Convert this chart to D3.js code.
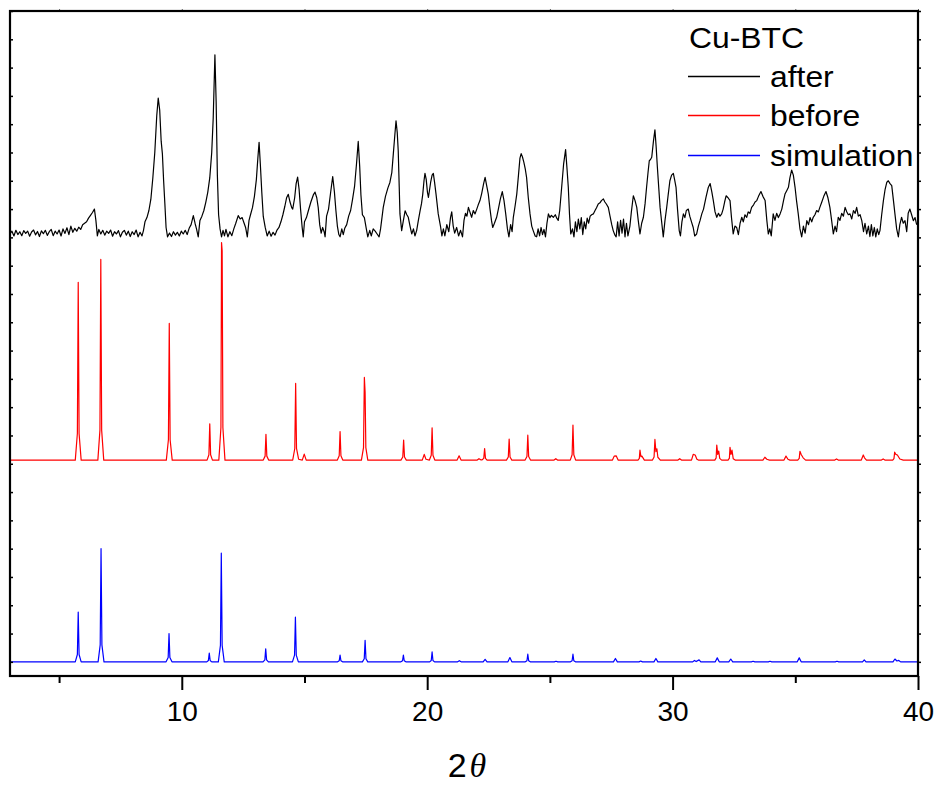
<!DOCTYPE html>
<html>
<head>
<meta charset="utf-8">
<script src="https://cdn.jsdelivr.net/npm/d3@7"></script>
<style>
  html, body { margin: 0; padding: 0; background: #fff; }
  svg { display: block; }
</style>
</head>
<body>
<svg id="chart" width="939" height="787"></svg>
<script>
// Powder XRD patterns of Cu-BTC: measured after / before, and simulated pattern.
// Each pattern is a list of [2θ, intensity] points; intensity is in stacked
// plot units, measured from the pattern's own baseline.

const seriesNames = ["after", "before", "simulation"];
const seriesColors = ["#000000", "#ff0000", "#0000ff"];
const seriesOffsets = [15, 7.13, 0];

const xMajorTicks = [10, 20, 30, 40];
const xMinorTicks = [5, 15, 25, 35];
const yTickValues = [0, 1, 2, 3, 4, 5, 6, 7, 8, 9, 10, 11, 12, 13, 14, 15, 16, 17, 18, 19, 20, 21, 22, 23];

const afterData = [
  [3.00,0.12],[3.08,0.22],[3.16,0.05],[3.24,0.25],[3.32,0.10],[3.40,0.20],[3.48,0.06],[3.56,0.24],
  [3.64,0.14],[3.72,0.22],[3.80,0.04],[3.88,0.19],[3.96,0.26],[4.04,0.09],[4.12,0.21],[4.20,0.03],
  [4.28,0.23],[4.36,0.13],[4.44,0.25],[4.52,0.07],[4.60,0.20],[4.68,0.28],[4.76,0.06],[4.84,0.22],
  [4.92,0.12],[5.00,0.26],[5.08,0.05],[5.16,0.30],[5.24,0.14],[5.32,0.34],[5.40,0.10],[5.48,0.40],
  [5.56,0.18],[5.64,0.32],[5.72,0.22],[5.80,0.36],[5.88,0.28],[5.96,0.45],[6.04,0.50],[6.12,0.55],
  [6.20,0.68],[6.28,0.78],[6.36,0.88],[6.44,1.00],[6.50,0.60],[6.56,0.05],[6.62,0.28],[6.70,0.12],
  [6.78,0.25],[6.86,0.08],[6.94,0.22],[7.02,0.14],[7.10,0.26],[7.18,0.04],[7.26,0.20],[7.34,0.12],
  [7.42,0.24],[7.50,0.02],[7.58,0.18],[7.66,0.25],[7.74,0.08],[7.82,0.22],[7.90,0.03],[7.98,0.20],
  [8.06,0.10],[8.14,0.26],[8.22,0.02],[8.30,0.18],[8.38,0.05],[8.44,0.25],[8.50,0.55],[8.58,0.70],
  [8.66,0.95],[8.74,1.35],[8.82,2.10],[8.90,3.00],[8.98,4.30],[9.04,4.92],[9.10,4.50],[9.16,3.40],
  [9.21,2.95],[9.26,2.00],[9.31,1.20],[9.36,0.35],[9.42,0.02],[9.50,0.15],[9.58,0.03],[9.66,0.20],
  [9.74,0.08],[9.82,0.18],[9.90,0.05],[9.98,0.22],[10.06,0.12],[10.14,0.25],[10.22,0.10],[10.30,0.32],
  [10.38,0.45],[10.47,0.77],[10.54,0.50],[10.60,0.30],[10.67,0.02],[10.74,0.60],[10.82,0.75],[10.90,0.95],
  [10.98,1.25],[11.06,1.60],[11.14,2.10],[11.22,3.00],[11.28,4.20],[11.35,6.45],[11.40,4.80],[11.45,2.20],
  [11.50,0.80],[11.56,0.30],[11.62,0.02],[11.68,0.25],[11.74,0.05],[11.80,0.28],[11.88,0.02],[11.96,0.20],
  [12.04,0.06],[12.12,0.30],[12.20,0.50],[12.30,0.77],[12.38,0.65],[12.46,0.70],[12.54,0.50],[12.60,0.35],
  [12.67,0.02],[12.74,0.60],[12.80,0.80],[12.88,1.05],[12.96,1.45],[13.04,2.05],[13.10,2.80],[13.15,3.36],
  [13.20,2.60],[13.26,1.60],[13.32,0.74],[13.40,0.35],[13.48,0.05],[13.56,0.22],[13.64,0.04],[13.72,0.18],
  [13.80,0.08],[13.88,0.26],[13.96,0.35],[14.04,0.55],[14.12,0.80],[14.20,1.10],[14.27,1.40],[14.34,1.52],
  [14.41,1.25],[14.48,1.05],[14.52,1.00],[14.60,1.40],[14.66,1.90],[14.72,2.13],[14.78,1.70],[14.84,1.00],
  [14.90,0.40],[14.95,0.02],[15.00,0.55],[15.08,0.70],[15.16,0.95],[15.26,1.25],[15.36,1.50],[15.43,1.60],
  [15.50,1.40],[15.56,1.05],[15.62,0.45],[15.68,0.15],[15.74,0.35],[15.80,0.20],[15.84,0.02],[15.90,0.75],
  [15.98,1.00],[16.06,1.55],[16.15,2.15],[16.22,1.60],[16.28,0.95],[16.34,0.40],[16.40,0.10],[16.45,0.02],
  [16.52,0.30],[16.58,0.10],[16.64,0.32],[16.72,0.45],[16.80,0.75],[16.88,0.95],[16.96,1.35],[17.04,1.80],
  [17.12,2.60],[17.19,3.39],[17.25,2.50],[17.30,1.50],[17.36,0.80],[17.44,0.70],[17.52,0.30],[17.58,0.02],
  [17.66,0.25],[17.72,0.05],[17.80,0.30],[17.88,0.22],[17.96,0.12],[18.04,0.02],[18.10,0.30],[18.21,1.06],
  [18.30,1.45],[18.40,1.75],[18.48,1.94],[18.56,2.30],[18.62,2.95],[18.68,3.60],[18.73,4.12],[18.78,3.70],
  [18.82,3.06],[18.86,1.80],[18.89,0.83],[18.96,0.24],[19.03,0.60],[19.10,0.94],[19.17,0.80],[19.23,0.71],
  [19.30,0.40],[19.37,0.12],[19.44,0.30],[19.50,0.05],[19.57,0.24],[19.64,0.60],[19.71,0.94],[19.77,1.20],
  [19.82,1.53],[19.87,2.00],[19.91,2.26],[19.96,2.05],[20.01,1.60],[20.05,1.41],[20.10,1.70],[20.14,1.94],
  [20.20,2.20],[20.25,2.26],[20.30,1.95],[20.36,1.53],[20.45,0.83],[20.55,0.35],[20.60,0.05],[20.66,0.30],
  [20.72,0.05],[20.80,0.45],[20.88,0.20],[20.95,0.70],[21.00,0.90],[21.06,0.40],[21.12,0.15],[21.20,0.35],
  [21.28,0.05],[21.36,0.25],[21.44,0.02],[21.50,0.60],[21.56,0.85],[21.62,0.75],[21.68,1.06],[21.74,0.90],
  [21.81,0.71],[21.88,0.95],[21.95,0.83],[22.02,1.00],[22.08,1.15],[22.15,1.30],[22.22,1.55],[22.30,1.90],
  [22.36,2.12],[22.42,1.85],[22.49,1.53],[22.56,1.00],[22.62,0.60],[22.67,0.35],[22.74,0.50],[22.83,0.71],
  [22.90,1.00],[22.98,1.35],[23.06,1.62],[23.13,1.30],[23.20,0.83],[23.27,0.30],[23.33,0.02],[23.40,0.45],
  [23.46,0.20],[23.51,0.71],[23.58,1.10],[23.65,1.53],[23.72,2.20],[23.78,2.80],[23.83,2.96],[23.88,2.85],
  [23.94,2.65],[24.00,2.40],[24.05,2.12],[24.12,1.40],[24.19,0.83],[24.26,0.40],[24.32,0.24],[24.40,0.05],
  [24.46,0.02],[24.52,0.30],[24.58,0.05],[24.64,0.35],[24.70,0.10],[24.76,0.28],[24.82,0.02],[24.88,0.50],
  [24.94,0.83],[25.00,0.70],[25.06,0.78],[25.14,0.71],[25.22,0.80],[25.28,0.68],[25.34,0.60],[25.40,0.95],
  [25.48,1.77],[25.56,2.60],[25.64,3.10],[25.70,2.40],[25.75,1.77],[25.80,0.80],[25.85,0.12],[25.92,0.30],
  [25.98,0.02],[26.04,0.55],[26.10,0.20],[26.16,0.65],[26.22,0.30],[26.28,0.70],[26.34,0.10],[26.40,0.55],
  [26.46,0.30],[26.52,0.68],[26.58,0.50],[26.64,0.75],[26.70,0.80],[26.77,0.83],[26.84,0.95],[26.90,1.05],
  [26.97,1.18],[27.04,1.22],[27.10,1.30],[27.18,1.36],[27.24,1.25],[27.30,1.18],[27.38,1.06],[27.45,0.75],
  [27.52,0.45],[27.58,0.24],[27.64,0.10],[27.70,0.02],[27.76,0.55],[27.82,0.05],[27.88,0.60],[27.94,0.15],
  [28.00,0.65],[28.06,0.02],[28.12,0.50],[28.18,0.05],[28.26,0.40],[28.32,0.90],[28.40,1.47],[28.47,1.30],
  [28.54,1.06],[28.60,0.60],[28.67,0.12],[28.74,0.50],[28.81,0.71],[28.88,1.20],[28.94,1.77],[29.00,2.30],
  [29.05,2.71],[29.10,2.75],[29.15,2.83],[29.22,3.40],[29.28,3.80],[29.33,3.20],[29.38,2.48],[29.44,1.70],
  [29.49,1.06],[29.56,0.50],[29.62,0.02],[29.69,0.60],[29.76,1.06],[29.82,1.50],[29.89,2.00],[29.96,2.20],
  [30.03,2.26],[30.08,2.05],[30.14,1.77],[30.20,1.00],[30.27,0.24],[30.32,0.05],[30.38,0.55],[30.44,0.83],
  [30.50,0.70],[30.56,0.95],[30.64,1.00],[30.70,0.75],[30.77,0.55],[30.84,0.35],[30.90,0.05],[30.98,0.12],
  [31.05,0.40],[31.12,0.60],[31.19,0.83],[31.26,1.00],[31.36,1.41],[31.45,1.75],[31.53,1.90],[31.60,1.60],
  [31.66,1.30],[31.73,0.90],[31.80,0.71],[31.87,0.85],[31.93,0.75],[32.00,0.83],[32.06,1.00],[32.12,1.25],
  [32.18,1.47],[32.26,1.40],[32.34,1.30],[32.40,0.70],[32.47,0.12],[32.54,0.40],[32.61,0.35],[32.68,0.10],
  [32.75,0.50],[32.82,0.71],[32.88,0.55],[32.95,0.80],[33.02,0.71],[33.08,0.90],[33.15,0.85],[33.22,1.06],
  [33.30,1.15],[33.36,1.25],[33.43,1.30],[33.50,1.45],[33.60,1.62],[33.68,1.45],[33.77,1.30],[33.84,0.60],
  [33.90,0.12],[33.96,0.30],[34.02,0.05],[34.10,0.83],[34.17,0.60],[34.24,0.85],[34.31,0.70],[34.38,0.83],
  [34.45,1.00],[34.52,1.30],[34.58,1.53],[34.65,1.65],[34.72,1.77],[34.78,2.10],[34.85,2.38],[34.92,2.20],
  [34.99,1.77],[35.05,1.30],[35.12,0.83],[35.19,0.30],[35.26,0.02],[35.33,0.40],[35.40,0.15],[35.47,0.59],
  [35.54,0.45],[35.60,0.70],[35.67,0.55],[35.73,0.71],[35.80,0.80],[35.87,0.95],[35.94,0.90],[36.00,1.06],
  [36.08,1.25],[36.16,1.45],[36.25,1.62],[36.33,1.40],[36.41,1.06],[36.48,0.60],[36.55,0.12],[36.62,0.40],
  [36.68,0.20],[36.75,0.71],[36.82,0.60],[36.89,0.85],[36.96,0.75],[37.03,1.06],[37.10,0.90],[37.16,0.80],
  [37.23,0.83],[37.30,0.65],[37.37,0.95],[37.44,0.85],[37.50,1.06],[37.57,0.75],[37.64,0.80],[37.71,0.59],
  [37.78,0.20],[37.84,0.50],[37.91,0.12],[37.98,0.40],[38.04,0.03],[38.10,0.45],[38.16,0.05],[38.22,0.35],
  [38.28,0.02],[38.34,0.30],[38.40,0.10],[38.45,0.24],[38.52,0.80],[38.59,1.30],[38.66,1.70],[38.73,1.95],
  [38.79,2.00],[38.86,1.90],[38.93,1.83],[39.00,1.30],[39.06,0.83],[39.13,0.30],[39.20,0.02],[39.26,0.45],
  [39.33,0.71],[39.40,0.50],[39.47,0.59],[39.54,0.20],[39.60,0.85],[39.67,1.00],[39.74,0.80],[39.81,0.59],
  [39.88,0.70],[39.94,0.47],[40.00,0.45]
];

const beforeData = [
  [3.00,0],
  [5.66,0],[5.745,0.94],[5.78,6.28],[5.815,0.94],[5.90,0],
  [6.58,0],[6.665,1.06],[6.70,7.09],[6.735,1.06],[6.82,0],
  [9.37,0],[9.455,0.72],[9.49,4.83],[9.525,0.72],[9.61,0],
  [11.03,0],[11.105,0.19],[11.14,1.28],[11.175,0.19],[11.25,0],
  [11.51,0],[11.595,1.15],[11.62,7.69],[11.645,7.4],[11.675,1.15],[11.76,0],
  [13.32,0],[13.395,0.14],[13.43,0.91],[13.465,0.14],[13.54,0],
  [14.52,0],[14.605,0.41],[14.64,2.71],[14.675,0.41],[14.76,0.03],
  [14.91,0],[14.99,0.21],[15.07,0],
  [16.34,0],[16.415,0.15],[16.45,1.01],[16.485,0.15],[16.56,0],
  [17.32,0],[17.405,0.44],[17.44,2.92],[17.47,2.4],[17.50,0.44],[17.58,0],
  [18.93,0],[19.005,0.11],[19.04,0.71],[19.075,0.11],[19.15,0],
  [19.80,0],[19.88,0.20],[19.95,0.03],
  [20.09,0],[20.165,0.17],[20.20,1.14],[20.235,0.17],[20.31,0],
  [21.22,0],[21.30,0.15],[21.38,0],
  [22.04,0],[22.11,0.05],[22.18,0.01],
  [22.24,0.01],[22.305,0.06],[22.34,0.41],[22.375,0.06],[22.44,0],
  [23.23,0],[23.305,0.11],[23.34,0.74],[23.375,0.11],[23.45,0],
  [23.99,0],[24.065,0.13],[24.10,0.88],[24.135,0.13],[24.21,0],
  [25.17,0],[25.24,0.05],[25.31,0],
  [25.83,0],[25.905,0.19],[25.94,1.24],[25.975,0.19],[26.05,0],
  [27.55,0],[27.62,0.14],[27.70,0.15],[27.78,0],
  [28.59,0],[28.645,0.06],[28.67,0.35],[28.71,0.12],[28.75,0.14],[28.85,0],
  [29.18,0],[29.245,0.11],[29.28,0.73],[29.32,0.30],[29.36,0.40],[29.40,0.10],[29.50,0],
  [30.22,0],[30.29,0.05],[30.36,0],
  [30.77,0],[30.84,0.20],[30.92,0.18],[30.99,0.03],[31.05,0],
  [31.72,0],[31.775,0.08],[31.80,0.53],[31.84,0.20],[31.88,0.32],[31.92,0.06],[32.00,0],
  [32.26,0],[32.315,0.07],[32.34,0.45],[32.38,0.20],[32.42,0.35],[32.47,0.05],[32.55,0],
  [33.68,0],[33.76,0.10],[33.84,0.03],[33.95,0],
  [34.54,0],[34.62,0.14],[34.70,0.03],[34.78,0],
  [35.10,0],[35.16,0.06],[35.19,0.31],[35.24,0.20],[35.32,0.08],[35.42,0],
  [36.61,0],[36.68,0.04],[36.75,0],
  [37.69,0],[37.77,0.18],[37.82,0.08],[37.90,0],
  [38.51,0],[38.58,0.04],[38.65,0],
  [38.97,0],[39.02,0.05],[39.05,0.28],[39.10,0.20],[39.16,0.18],[39.26,0.04],[39.40,0],
  [40.00,0]
];

const simulationData = [
  [3.00,0],
  [5.66,0],[5.745,0.26],[5.78,1.76],[5.815,0.26],[5.90,0],
  [6.59,0],[6.675,0.60],[6.71,4.00],[6.745,0.60],[6.83,0],
  [9.36,0],[9.445,0.15],[9.48,1.00],[9.515,0.15],[9.60,0],
  [11.02,0],[11.085,0.05],[11.12,0.31],[11.155,0.05],[11.22,0],
  [11.49,0],[11.575,0.58],[11.61,3.84],[11.645,0.58],[11.73,0],
  [13.31,0],[13.385,0.07],[13.42,0.46],[13.455,0.07],[13.53,0],
  [14.51,0],[14.595,0.24],[14.63,1.58],[14.665,0.24],[14.75,0],
  [16.35,0],[16.415,0.04],[16.45,0.24],[16.485,0.04],[16.55,0],
  [17.36,0],[17.435,0.11],[17.47,0.76],[17.505,0.11],[17.58,0],
  [18.93,0],[18.995,0.04],[19.03,0.24],[19.065,0.04],[19.13,0],
  [20.10,0],[20.165,0.05],[20.20,0.35],[20.235,0.05],[20.30,0],
  [21.24,0],[21.31,0.04],[21.38,0],
  [22.28,0],[22.36,0.09],[22.44,0],
  [23.29,0],[23.37,0.15],[23.45,0],
  [24.00,0],[24.065,0.04],[24.10,0.27],[24.135,0.04],[24.20,0],
  [25.18,0],[25.25,0.02],[25.32,0],
  [25.84,0],[25.905,0.04],[25.94,0.27],[25.975,0.04],[26.04,0],
  [27.59,0],[27.67,0.12],[27.75,0],
  [28.63,0],[28.70,0.03],[28.77,0],
  [29.24,0],[29.32,0.12],[29.40,0],
  [30.82,0],[30.89,0.05],[30.96,0.01],[31.08,0.07],[31.15,0],
  [31.74,0],[31.82,0.14],[31.90,0],
  [32.29,0],[32.37,0.10],[32.45,0],
  [33.21,0],[33.28,0.02],[33.35,0],
  [33.90,0],[33.97,0.02],[34.04,0],
  [35.08,0],[35.16,0.14],[35.24,0],
  [36.63,0],[36.70,0.02],[36.77,0],
  [37.74,0],[37.81,0.07],[37.88,0],
  [38.98,0],[39.06,0.10],[39.14,0.03],[39.22,0.05],[39.29,0],
  [40.00,0]
];

const seriesData = [afterData, beforeData, simulationData];

// ---- layout ----
const svg = d3.select("#chart");
const plotLeft = 10, plotRight = 918, plotTop = 11, plotBottom = 676;

const x = d3.scaleLinear().domain([3, 40]).range([plotLeft, plotRight]);
const y = d3.scaleLinear().domain([-0.5, 23]).range([plotBottom, plotTop]);

const font = "'Liberation Sans', Arial, Helvetica, sans-serif";

// ---- patterns ----
const plot = svg.append("g");
seriesData.forEach((data, i) => {
  const off = seriesOffsets[i];
  const line = d3.line()
    .x(d => x(d[0]))
    .y(d => y(d[1] + off));
  plot.append("path")
    .datum(data)
    .attr("fill", "none")
    .attr("stroke", seriesColors[i])
    .attr("stroke-width", 1.2)
    .attr("stroke-linejoin", "round")
    .attr("d", line);
});

// ---- axes ----
const axisStyle = g => {
  g.select(".domain").remove();
  g.selectAll(".tick line").attr("stroke", "#000").attr("stroke-width", 2);
};

// bottom: major ticks with labels, minor ticks without
svg.append("g")
  .attr("transform", `translate(0,${plotBottom})`)
  .call(d3.axisBottom(x).tickValues(xMajorTicks).tickSize(14).tickPadding(11).tickFormat(d3.format("d")))
  .call(axisStyle)
  .call(g => g.selectAll(".tick text")
    .attr("fill", "#000")
    .attr("font-family", font)
    .attr("font-size", 28));
svg.append("g")
  .attr("transform", `translate(0,${plotBottom})`)
  .call(d3.axisBottom(x).tickValues(xMinorTicks).tickSize(7).tickFormat(""))
  .call(axisStyle);

// top: tiny outward ticks
svg.append("g")
  .attr("transform", `translate(0,${plotTop})`)
  .call(d3.axisTop(x).tickValues(xMajorTicks.concat(xMinorTicks)).tickSize(2).tickFormat(""))
  .call(axisStyle)
  .call(g => g.selectAll(".tick line").attr("stroke-width", 1).attr("stroke", "#666"));

// left: short inward ticks; right: short outward ticks
svg.append("g")
  .attr("transform", `translate(${plotLeft},0)`)
  .call(d3.axisRight(y).tickValues(yTickValues).tickSize(3).tickFormat(""))
  .call(axisStyle)
  .call(g => g.selectAll(".tick line").attr("stroke-width", 1.5));
svg.append("g")
  .attr("transform", `translate(${plotRight},0)`)
  .call(d3.axisRight(y).tickValues(yTickValues).tickSize(3).tickFormat(""))
  .call(axisStyle)
  .call(g => g.selectAll(".tick line").attr("stroke-width", 1.5));

// frame
svg.append("rect")
  .attr("x", plotLeft).attr("y", plotTop)
  .attr("width", plotRight - plotLeft).attr("height", plotBottom - plotTop)
  .attr("fill", "none").attr("stroke", "#000").attr("stroke-width", 2.2);

// x-axis title: 2θ
const title = svg.append("text")
  .attr("x", 467).attr("y", 777)
  .attr("text-anchor", "middle")
  .attr("font-family", font)
  .attr("font-size", 34)
  .attr("fill", "#000");
title.append("tspan").text("2");
title.append("tspan")
  .attr("font-family", "'Liberation Serif', 'Times New Roman', serif")
  .attr("font-style", "italic")
  .attr("dx", 3)
  .text("θ");

// ---- legend ----
const legend = svg.append("g").attr("font-family", font).attr("fill", "#000");
legend.append("text")
  .attr("transform", "translate(689,47.5) scale(1.08,1)")
  .attr("font-size", 29.5)
  .text("Cu-BTC");
const legendRows = [76.5, 115.5, 155.5];
seriesNames.forEach((name, i) => {
  const cy = legendRows[i];
  legend.append("line")
    .attr("x1", 688).attr("x2", 760)
    .attr("y1", cy).attr("y2", cy)
    .attr("stroke", seriesColors[i])
    .attr("stroke-width", 1.3);
  legend.append("text")
    .attr("transform", `translate(770,${cy + 10}) scale(1.08,1)`)
    .attr("font-size", 29.5)
    .text(name);
});
</script>
</body>
</html>
